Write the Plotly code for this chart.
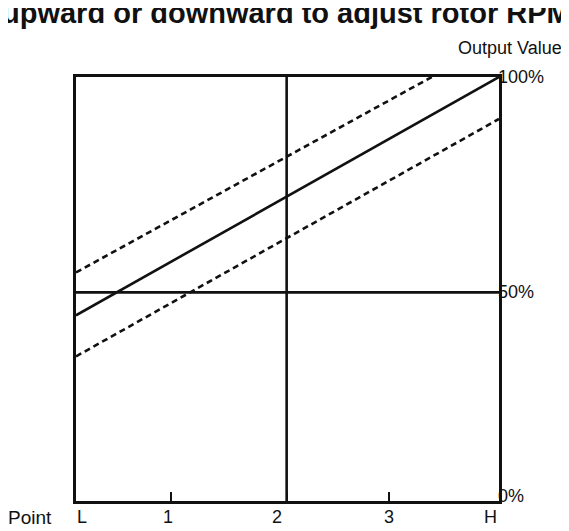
import plotly.graph_objects as go

# ---- data (x in % of the L..H span, y in % output) ----
solid_x = [0, 100]
solid_y = [43.8, 100]
upper_x = [0, 84.1]
upper_y = [53.9, 100]
lower_x = [0, 100]
lower_y = [34.1, 90.1]
mid_h_x = [0, 100]
mid_h_y = [49.2, 49.2]
mid_v_x = [49.8, 49.8]
mid_v_y = [0, 100]

tick_pos = [0, 22.4, 49.8, 74.1, 100]
xlabel_pos = [1.4, 21.8, 47.6, 74.1, 98.0]
xlabel_text = ["L", "1", "2", "3", "H"]
ylabel_pos = [0, 49.4, 100]
ylabel_text = ["0%", "50%", "100%"]
title_text = "upward or downward to adjust rotor RPM"

FONT = "Liberation Sans, Arial, Helvetica, sans-serif"
LW = 2.6

fig = go.Figure()
fig.add_trace(go.Scatter(x=mid_h_x, y=mid_h_y, mode="lines",
                         line=dict(color="#111", width=LW), hoverinfo="skip"))
fig.add_trace(go.Scatter(x=mid_v_x, y=mid_v_y, mode="lines",
                         line=dict(color="#111", width=LW), hoverinfo="skip"))
fig.add_trace(go.Scatter(x=upper_x, y=upper_y, mode="lines",
                         line=dict(color="#111", width=LW, dash="6px,4px")))
fig.add_trace(go.Scatter(x=lower_x, y=lower_y, mode="lines",
                         line=dict(color="#111", width=LW, dash="6px,4px")))
fig.add_trace(go.Scatter(x=solid_x, y=solid_y, mode="lines",
                         line=dict(color="#111", width=LW)))

annotations = []
for xp, t in zip(xlabel_pos, xlabel_text):
    annotations.append(dict(x=xp, xref="x", y=0, yref="paper", text=t,
                            showarrow=False, yanchor="middle", yshift=-16,
                            font=dict(family=FONT, size=18, color="#111")))
for yp, t in zip(ylabel_pos, ylabel_text):
    annotations.append(dict(x=1, xref="paper", y=yp, yref="y", text=t,
                            showarrow=False, xanchor="left", xshift=-3,
                            yanchor="middle", yshift=(5 if yp == 0 else 0),
                            font=dict(family=FONT, size=18, color="#111")))
annotations.append(dict(x=0, xref="paper", y=0, yref="paper", text="Point",
                        showarrow=False, xanchor="center", xshift=-46,
                        yanchor="middle", yshift=-16,
                        font=dict(family=FONT, size=19, color="#111")))
annotations.append(dict(x=1, xref="paper", y=1, yref="paper", text="Output Value",
                        showarrow=False, xanchor="center", xshift=11, yshift=29,
                        yanchor="middle",
                        font=dict(family=FONT, size=18, color="#111")))
annotations.append(dict(x=0.5, xref="paper", y=1, yref="paper", text="<b>" + title_text + "</b>",
                        showarrow=False, xanchor="center", xshift=-1, yshift=64,
                        yanchor="middle",
                        font=dict(family=FONT, size=29, color="#111")))

fig.update_layout(
    width=569, height=531,
    margin=dict(l=68, r=78, t=69, b=38),
    paper_bgcolor="white", plot_bgcolor="white",
    showlegend=False,
    annotations=annotations,
    xaxis=dict(range=[0, 100], tickvals=tick_pos, ticks="inside", ticklen=9,
               tickwidth=2, tickcolor="#111", showticklabels=False,
               showgrid=False, zeroline=False, showline=True, mirror=True,
               linecolor="#111", linewidth=LW, fixedrange=True),
    yaxis=dict(range=[0, 100], showticklabels=False, ticks="",
               showgrid=False, zeroline=False, showline=True, mirror=True,
               linecolor="#111", linewidth=LW, fixedrange=True),
)

fig.write_html("out.html")
